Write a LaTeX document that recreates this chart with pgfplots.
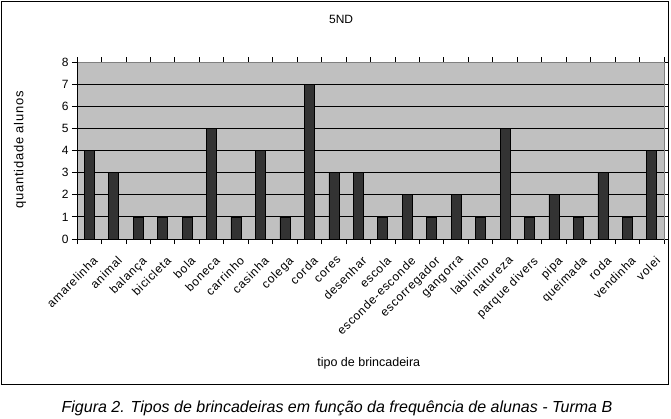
\documentclass[border=0pt]{standalone}
\usepackage{fontspec}
\setmainfont{Liberation Sans}
\usepackage{pgfplots}
\pgfplotsset{compat=1.18}
\definecolor{plotbg}{HTML}{C0C0C0}
\definecolor{barfill}{HTML}{333333}
\begin{document}
\begin{tikzpicture}[x=1pt,y=1pt]
\path[use as bounding box] (0,0) rectangle (671,-419);
\draw[line width=1pt] (1.5,-1.5) rectangle (668,-384);
\begin{axis}[
  at={(77pt,-239pt)}, anchor=south west,
  scale only axis, width=587pt, height=177pt,
  ybar, bar width=10pt,
  xmin=-0.5, xmax=23.5, ymin=0, ymax=8,
  ytick={0,...,8},
  xtick={0,...,23},
  xticklabels={amarelinha, animal, balança, bicicleta, bola, boneca, carrinho, casinha, colega, corda, cores, desenhar, escola, esconde-esconde, escorregador, gangorra, labirinto, natureza, parque divers, pipa, queimada, roda, vendinha, volei},
  minor xtick={-0.5,0.5,...,23.5},
  tick align=outside,
  major x tick style={draw=none},
  minor tick length=5pt, major tick length=5pt,
  tick style={black, line width=0.8pt},
  x tick label style={yshift=-10pt, xshift=3pt, rotate=45, anchor=north east, font=\fontsize{12}{13}\selectfont\addfontfeature{LetterSpace=6}, inner sep=1pt},
  y tick label style={font=\fontsize{12}{13}\selectfont},
  /pgf/number format/assume math mode=true,
  ymajorgrids, major grid style={black, line width=0.8pt},
  axis background/.style={fill=plotbg},
  axis line style={draw=gray, line width=0.8pt},
  ylabel={quantidade alunos},
  ylabel style={at={(axis description cs:-0.097,0.503)}, anchor=center, font=\fontsize{13}{14}\selectfont\addfontfeature{LetterSpace=6}},
  xlabel={tipo de brincadeira},
  xlabel style={at={(axis description cs:0.497,-0.70)}, anchor=center, font=\fontsize{12.5}{13}\selectfont},
  title={5ND},
  title style={at={(axis description cs:0.45,1.205)}, anchor=center, font=\fontsize{12}{13}\selectfont},
]
\addplot[fill=barfill, draw=black, line width=0.6pt] coordinates {
  (0,4) (1,3) (2,1) (3,1) (4,1) (5,5) (6,1) (7,4) (8,1) (9,7) (10,3) (11,3)
  (12,1) (13,2) (14,1) (15,2) (16,1) (17,5) (18,1) (19,2) (20,1) (21,3) (22,1) (23,4)
};
\draw[black, line width=0.8pt] (rel axis cs:0,0) -- (rel axis cs:1,0);
\draw[black, line width=0.8pt] (rel axis cs:0,0) -- (rel axis cs:0,1);
\end{axis}
\node[font=\fontsize{16}{18}\selectfont\itshape] at (337,-408) {Figura 2. Tipos de brincadeiras em função da frequência de alunas - Turma B};
\end{tikzpicture}
\end{document}
